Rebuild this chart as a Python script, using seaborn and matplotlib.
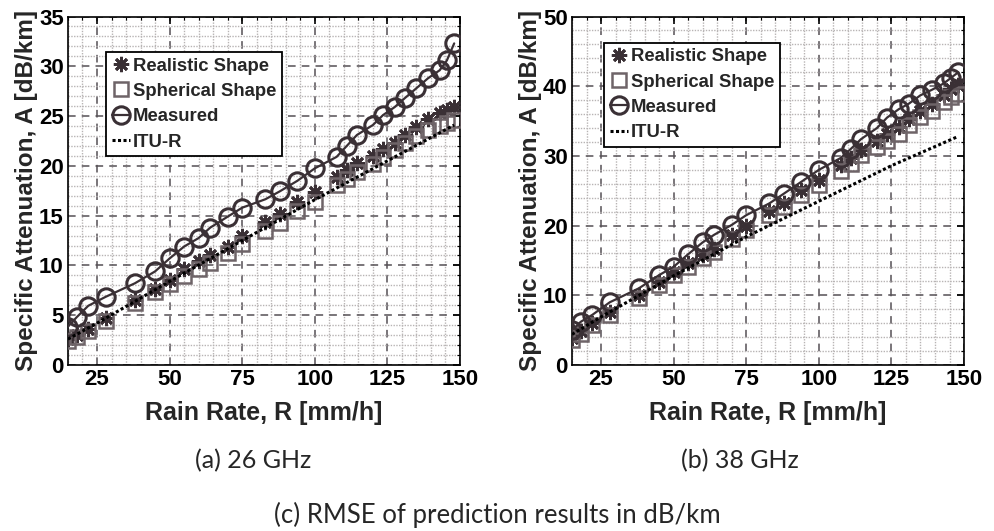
import numpy as np
import pandas as pd
import matplotlib
matplotlib.use("Agg")
import matplotlib.pyplot as plt
import seaborn as sns
from matplotlib.ticker import MultipleLocator

# rain rates (mm/h) where the points were computed
rain_rate = [15, 18, 22, 28, 38, 45, 50, 55, 60, 64, 70, 75, 83, 88, 94, 100,
             107.5, 111, 114.5, 120, 123.5, 127.5, 131, 135, 139, 143, 145.5, 148]

# 26 GHz
meas_26 = [3.85, 4.8, 5.95, 6.85, 8.2, 9.4, 10.7, 11.9, 12.75, 13.8, 14.9, 15.8, 16.65, 17.45,
           18.5, 19.75, 20.9, 22.0, 23.1, 24.1, 25.1, 25.9, 26.8, 27.8, 28.8, 29.6, 30.6, 32.3]
real_26 = [2.6, 3.0, 3.6, 4.7, 6.5, 7.6, 8.5, 9.6, 10.4, 11.0, 11.9, 13.0, 14.4, 15.2,
           16.4, 17.4, 18.9, 19.6, 20.25, 21.0, 21.7, 22.3, 23.1, 23.9, 24.7, 25.3, 25.6, 25.9]
sph_26 = [2.4, 2.8, 3.4, 4.4, 6.2, 7.3, 8.1, 8.9, 9.6, 10.2, 11.2, 12.2, 13.5, 14.3,
          15.5, 16.4, 18.1, 18.7, 19.4, 20.2, 20.9, 21.6, 22.3, 23.0, 23.6, 24.0, 24.3, 24.6]
itu_x = [15, 25, 50, 75, 100, 125, 148]
itu_26 = [2.6, 4.2, 8.4, 12.5, 16.6, 20.5, 24.1]

# 38 GHz
meas_38 = [5.0, 6.2, 7.2, 9.0, 11.0, 12.9, 14.1, 15.9, 17.6, 18.7, 20.1, 21.5, 23.2, 24.6,
           26.3, 28.0, 29.7, 31.0, 32.4, 34.0, 35.5, 36.7, 37.5, 38.7, 39.5, 40.4, 41.2, 42.0]
real_38 = [3.9, 4.9, 6.0, 7.6, 10.0, 11.9, 13.4, 14.6, 15.8, 16.7, 18.7, 19.9, 22.1, 23.3,
           25.1, 26.5, 28.7, 29.7, 30.9, 32.1, 33.1, 34.1, 35.3, 36.5, 37.5, 38.8, 39.6, 40.2]
sph_38 = [3.6, 4.5, 5.7, 7.2, 9.55, 11.5, 12.9, 14.1, 15.3, 16.2, 18.1, 19.3, 21.5, 22.7,
          24.4, 25.8, 27.9, 28.9, 30.1, 31.3, 32.2, 33.2, 34.4, 35.6, 36.5, 37.7, 38.4, 38.9]
itu_38 = [4.4, 6.9, 12.8, 18.4, 23.5, 28.6, 32.8]

captions = ["(a) 26 GHz", "(b) 38 GHz"]
bottom_caption = "(c) RMSE of prediction results in dB/km"

sns.set_style("white")
plt.rcParams['font.family'] = ['Liberation Sans', 'DejaVu Sans']
plt.rcParams['font.weight'] = 'bold'

fig = plt.figure(figsize=(9.95, 5.31), dpi=100)
ax1 = fig.add_axes([0.0683, 0.3126, 0.394, 0.6563])
ax2 = fig.add_axes([0.5749, 0.3126, 0.394, 0.6563])

dark = '#3a3035'
grey = '#6e6468'


def draw(ax, meas, real, sph, itu, ymax, ymajor, yminor, leg_anchor):
    df = pd.DataFrame({"R": rain_rate, "meas": meas, "real": real, "sph": sph})
    di = pd.DataFrame({"R": itu_x, "itu": itu})
    sns.lineplot(data=df, x="R", y="real", ax=ax, linestyle='', marker=(8, 2, 0),
                 markersize=11, markeredgewidth=2.0, color=dark, markeredgecolor=dark,
                 label="Realistic Shape", zorder=3)
    sns.lineplot(data=df, x="R", y="sph", ax=ax, linestyle='', marker='s',
                 markersize=10, markeredgewidth=1.8, markerfacecolor='none',
                 markeredgecolor=grey, color=grey, label="Spherical Shape", zorder=4)
    sns.lineplot(data=df, x="R", y="meas", ax=ax, marker='o', markersize=12.5,
                 markeredgewidth=2.2, markerfacecolor='none', markeredgecolor=dark,
                 color=dark, linewidth=1.6, label="Measured", zorder=5)
    sns.lineplot(data=di, x="R", y="itu", ax=ax, color='black', linestyle=(0, (1, 0.8)),
                 linewidth=2.2, label="ITU-R", zorder=6)

    ax.set_xlim(15, 150)
    ax.set_ylim(0, ymax)
    ax.xaxis.set_major_locator(MultipleLocator(25))
    ax.xaxis.set_minor_locator(MultipleLocator(5))
    ax.yaxis.set_major_locator(MultipleLocator(ymajor))
    ax.yaxis.set_minor_locator(MultipleLocator(yminor))
    ax.grid(which='minor', color='#b8b4b4', linestyle=(0, (1, 1)), linewidth=1.0, zorder=0)
    ax.grid(which='major', color='#555055', linestyle=(0, (5, 4)), linewidth=1.1, zorder=1)
    ax.set_axisbelow(True)
    ax.tick_params(which='both', direction='in', top=True, right=True, colors='black',
                   labelsize=16, pad=3)
    ax.tick_params(which='major', length=5, width=1.2)
    ax.tick_params(which='minor', length=2.5, width=0.8)
    for lab in ax.get_xticklabels() + ax.get_yticklabels():
        lab.set_fontweight('bold')
    for s in ax.spines.values():
        s.set_color('black')
        s.set_linewidth(1.2)
    ax.set_xlabel("Rain Rate, R [mm/h]", fontsize=18, fontweight='bold', labelpad=8)
    ax.set_ylabel("Specific Attenuation, A [dB/km]", fontsize=17.5, fontweight='bold', labelpad=1)
    leg = ax.legend(loc='upper left', bbox_to_anchor=leg_anchor, fancybox=False,
                    framealpha=1, edgecolor='black', handlelength=1.0,
                    handletextpad=0.15, labelspacing=0.45, borderpad=0.3,
                    borderaxespad=0, prop={'weight': 'bold', 'size': 13.3})
    leg.get_frame().set_linewidth(1.3)
    leg.set_zorder(10)


draw(ax1, meas_26, real_26, sph_26, itu_26, 35, 5, 1, (0.097, 0.898))
draw(ax2, meas_38, real_38, sph_38, itu_38, 50, 10, 2, (0.082, 0.925))

cap_font = ['Lato', 'DejaVu Sans']
fig.text(0.254, 0.133, captions[0], ha='center', va='center', fontsize=18,
         family=cap_font, fontweight='normal')
fig.text(0.744, 0.133, captions[1], ha='center', va='center', fontsize=18,
         family=cap_font, fontweight='normal')
fig.text(0.5, 0.03, bottom_caption, ha='center', va='center', fontsize=18.5,
         family=cap_font, fontweight='normal')

fig.savefig("out.png", dpi=100)
